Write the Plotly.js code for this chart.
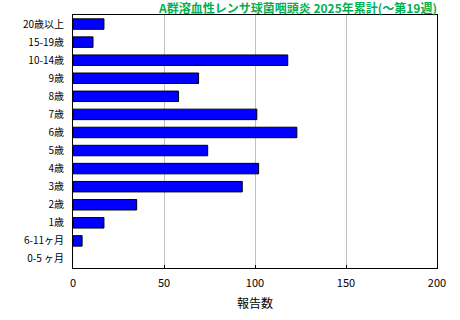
<!DOCTYPE html>
<html><head><meta charset="utf-8">
<script src="https://cdn.plot.ly/plotly-3.0.1.min.js"></script>
<style>body{margin:0;background:#fff}#c{width:460px;height:320px}</style>
</head><body><div id="c"></div>
<script>
var categories = ["20歳以上","15-19歳","10-14歳","9歳","8歳","7歳","6歳","5歳","4歳","3歳","2歳","1歳","6-11ヶ月","0-5 ヶ月"];
var values = [17, 11, 118, 69, 58, 101, 123, 74, 102, 93, 35, 17, 5, 0];
var titleText = "A群溶血性レンサ球菌咽頭炎 2025年累計(～第19週)";
var xTitle = "報告数";
var font = "'Noto Sans CJK JP', 'Noto Sans', sans-serif";

Plotly.newPlot('c', [{
  type: 'bar', orientation: 'h',
  y: categories, x: values,
  marker: {color: '#0000FF', line: {color: '#000000', width: values.map(function(v){return v > 0 ? 1 : 0;})}},
  hoverinfo: 'none'
}], {
  width: 460, height: 320,
  margin: {l: 73, r: 23, t: 15, b: 52},
  paper_bgcolor: '#fff', plot_bgcolor: '#fff',
  bargap: 0.42,
  showlegend: false,
  title: {text: titleText, font: {family: font, size: 12, color: '#00B050', weight: 'bold'},
          x: 1, xanchor: 'right', xref: 'paper', y: 0.985, yanchor: 'top'},
  xaxis: {range: [0, 200], dtick: 50, showgrid: true, gridcolor: '#c0c0c0', gridwidth: 1,
          showline: true, linecolor: '#000', linewidth: 1, mirror: true, zeroline: false,
          ticks: 'inside', ticklen: 3, tickcolor: '#000', ticklabelstandoff: 5,
          tickfont: {family: font, size: 11, color: '#000'},
          title: {text: xTitle, font: {family: font, size: 12, color: '#000'}, standoff: 10}},
  yaxis: {autorange: 'reversed', type: 'category', showgrid: false,
          showline: true, linecolor: '#000', linewidth: 1, mirror: true,
          ticks: '', ticklabelstandoff: 6,
          tickfont: {family: font, size: 10, color: '#000'}}
}, {staticPlot: true});
</script></body></html>
